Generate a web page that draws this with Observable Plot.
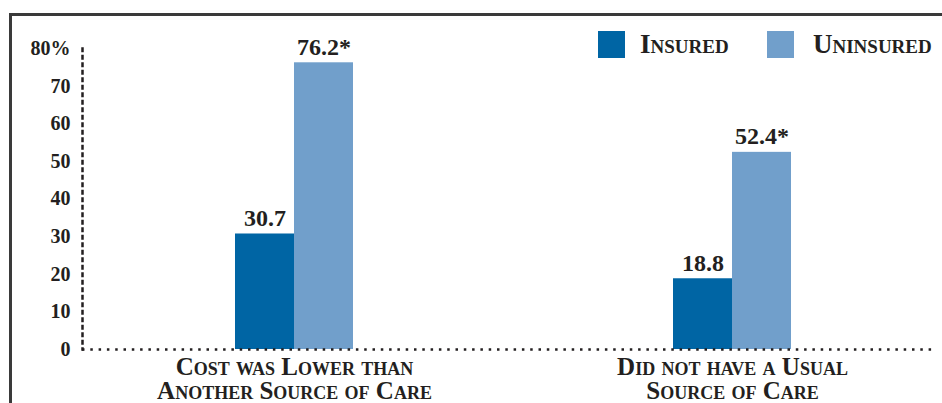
<!DOCTYPE html>
<html>
<head>
<meta charset="utf-8">
<script src="https://cdn.jsdelivr.net/npm/d3@7"></script>
<script src="https://cdn.jsdelivr.net/npm/@observablehq/plot@0.6"></script>
<style>
  body { margin: 0; background: #fff; }
  #wrap { position: relative; width: 942px; height: 403px; overflow: hidden;
          font-family: "Liberation Serif", serif; color: #231f20; }
  #box { position: absolute; left: 9px; top: 13px; right: -5px; bottom: -10px;
         border-top: 3px solid #3a3a3a; border-left: 3px solid #3a3a3a; }
  #chart { position: absolute; left: 0; top: 0; }
  .leg { position: absolute; top: 31px; height: 27px; display: flex; align-items: center;
         font-weight: bold; font-variant: small-caps; font-size: 27px; line-height: 27px; }
  .sw { width: 27px; height: 27px; display: inline-block; }
  #chart g[aria-label="x-axis tick label"] text { font-variant: small-caps; }
</style>
</head>
<body>
<div id="wrap">
  <div id="box"></div>
  <div id="chart"></div>
  <div id="legend"></div>
</div>
<script>
const categories = ["Cost was Lower than Another Source of Care", "Did not have a Usual Source of Care"];
const categoryLines = ["Cost was Lower than\nAnother Source of Care", "Did not have a Usual\nSource of Care"];
const series = ["Insured", "Uninsured"];
const seriesColors = ["#0065a4", "#719fcb"];
const insured = [30.7, 18.8];
const uninsured = [76.2, 52.4];
const insuredLabels = ["30.7", "18.8"];
const uninsuredLabels = ["76.2*", "52.4*"];
const yTicks = [0, 10, 20, 30, 40, 50, 60, 70, 80];
const yTickLabels = ["0", "10", "20", "30", "40", "50", "60", "70", "80%"];

const ink = "#231f20";
const insuredData = categories.map((c, i) => ({cat: c, value: insured[i], label: insuredLabels[i]}));
const uninsuredData = categories.map((c, i) => ({cat: c, value: uninsured[i], label: uninsuredLabels[i]}));

const half = 59;
const plot = Plot.plot({
  width: 942,
  height: 403,
  marginLeft: 82,
  marginRight: 9,
  marginTop: 48,
  marginBottom: 54,
  style: {fontFamily: "'Liberation Serif', serif", color: ink, background: "transparent"},
  x: {domain: categories, range: [82, 944], paddingInner: 0.7306, paddingOuter: 0.3493, align: 0.5, round: false, axis: null, label: null},
  y: {domain: [0, 80], axis: null, label: null},
  marks: [
    Plot.barY(insuredData, {x: "cat", y: "value", fill: seriesColors[0], insetRight: half}),
    Plot.barY(uninsuredData, {x: "cat", y: "value", fill: seriesColors[1], insetLeft: half}),
    Plot.frame({anchor: "left", stroke: ink, strokeWidth: 2.5, strokeDasharray: "2.5 5"}),
    Plot.ruleY([0], {stroke: ink, strokeWidth: 2.5, strokeDasharray: "2.5 5.8"}),
    Plot.text(insuredData, {x: "cat", y: "value", text: "label", dx: -half / 2, dy: -8, lineAnchor: "bottom",
      fontSize: 24, fontWeight: "bold", fill: ink}),
    Plot.text(uninsuredData, {x: "cat", y: "value", text: "label", dx: half / 2, dy: -8, lineAnchor: "bottom",
      fontSize: 24, fontWeight: "bold", fill: ink}),
    Plot.axisY({ticks: yTicks, tickFormat: d => yTickLabels[yTicks.indexOf(d)], tickSize: 0, tickPadding: 12,
      fontSize: 20, fontWeight: "bold", fill: ink, label: null}),
    Plot.axisX({tickFormat: d => categoryLines[categories.indexOf(d)], tickSize: 0, tickPadding: 8,
      fontSize: 25, fontWeight: "bold", lineHeight: 0.98, fill: ink, label: null})
  ]
});
document.getElementById("chart").appendChild(plot);

const legend = document.getElementById("legend");
const legendLeft = [598, 767];
const legendGap = [15, 19];
series.forEach((s, i) => {
  const item = document.createElement("div");
  item.className = "leg";
  item.style.left = legendLeft[i] + "px";
  const sw = document.createElement("span");
  sw.className = "sw";
  sw.style.background = seriesColors[i];
  sw.style.marginRight = legendGap[i] + "px";
  const t = document.createElement("span");
  t.textContent = s;
  item.appendChild(sw);
  item.appendChild(t);
  legend.appendChild(item);
});
</script>
</body>
</html>
